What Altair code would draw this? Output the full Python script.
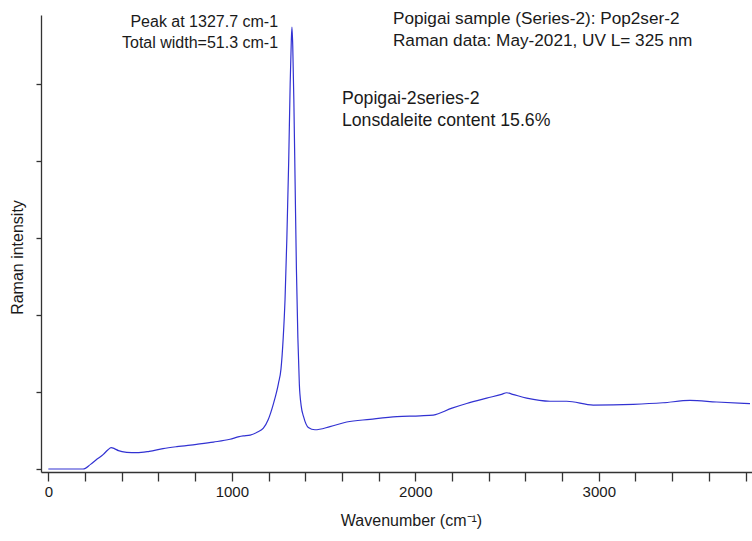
import altair as alt
import pandas as pd

# Raman spectrum (wavenumber in cm-1, intensity in arbitrary units)
wavenumber = [0, 100, 189, 230, 264, 300, 325, 342, 360, 382, 427, 482, 550, 625, 700, 808, 900,
              990, 1040, 1062, 1100, 1140, 1172, 1198, 1227, 1254, 1268, 1280, 1290,
              1300, 1310, 1318, 1324, 1327.7, 1332, 1338, 1345, 1352, 1360, 1368, 1378,
              1391, 1417, 1453, 1535, 1626, 1753, 1900, 2026, 2098, 2200, 2280, 2389,
              2470, 2498, 2530, 2607, 2734, 2825, 2970, 3188, 3350, 3497, 3642, 3824]
intensity = [0.0, 0.0, 0.0, 0.06, 0.126, 0.19, 0.25, 0.277, 0.265, 0.238, 0.217, 0.212, 0.23, 0.264,
             0.29, 0.321, 0.35, 0.386, 0.42, 0.429, 0.44, 0.48, 0.53, 0.64, 0.85, 1.11,
             1.3, 1.7, 2.2, 3.0, 4.0, 5.0, 5.55, 5.74, 5.5, 4.8, 3.7, 2.6, 1.7, 1.1, 0.82,
             0.68, 0.54, 0.51, 0.55, 0.61, 0.645, 0.68, 0.69, 0.70, 0.79, 0.85, 0.92,
             0.97, 0.99, 0.97, 0.92, 0.88, 0.88, 0.83, 0.84, 0.86, 0.89, 0.87, 0.85]

# Annotations (anchored in data coordinates)
peak_text = ["Peak at 1327.7 cm-1", "Total width=51.3 cm-1"]
peak_x = [1252, 1252]
peak_y = [5.81, 5.53]

info_text = ["Popigai sample (Series-2): Pop2ser-2", "Raman data: May-2021, UV L= 325 nm"]
info_x = [1878, 1878]
info_y = [5.85, 5.56]

sample_text = ["Popigai-2series-2", "Lonsdaleite content 15.6%"]
sample_x = [1600, 1600]
sample_y = [4.81, 4.52]

x_ticks = list(range(0, 3801, 200))
y_ticks = [0, 1, 2, 3, 4, 5]

FONT = "Liberation Sans"

spec = pd.DataFrame({"w": wavenumber, "i": intensity})

xscale = alt.Scale(domain=[-40, 3835], nice=False, zero=False)
yscale = alt.Scale(domain=[-0.039, 5.896], nice=False, zero=False)

xaxis = alt.Axis(values=x_ticks, tickCount=100, format="d", labelOverlap=False,
                 labelExpr="datum.value % 1000 === 0 ? datum.label : ''",
                 title="Wavenumber (cm⁻¹)", tickSize=9, titlePadding=13,
                 labelPadding=3, titleX=370)
yaxis = alt.Axis(values=y_ticks, tickCount=100, labels=False, tickSize=5,
                 title="Raman intensity", titlePadding=10, titleY=242)

line = alt.Chart(spec).mark_line(color="#3232d2", strokeWidth=1.2, clip=True,
                                 interpolate="monotone").encode(
    x=alt.X("w:Q", scale=xscale, axis=xaxis),
    y=alt.Y("i:Q", scale=yscale, axis=yaxis),
)


def text_layer(texts, xs, ys, align, size):
    df = pd.DataFrame({"t": texts, "x": xs, "y": ys})
    return alt.Chart(df).mark_text(align=align, baseline="middle", font=FONT,
                                   fontSize=size, color="#1a1a1a").encode(
        x=alt.X("x:Q", scale=xscale, axis=xaxis),
        y=alt.Y("y:Q", scale=yscale, axis=yaxis),
        text="t:N",
    )


chart = alt.layer(
    line,
    text_layer(peak_text, peak_x, peak_y, "right", 16),
    text_layer(info_text, info_x, info_y, "left", 17.2),
    text_layer(sample_text, sample_x, sample_y, "left", 17.7),
).properties(
    width=711, height=457,
    padding={"left": 41, "top": 15, "right": 0, "bottom": 69},
    autosize=alt.AutoSizeParams(type="none"),
    background="white",
).configure_view(stroke=None).configure_axis(
    grid=False, labelOverlap=False,
    domainColor="#333333", tickColor="#333333", domainWidth=1.3, tickWidth=1.3,
    labelFont=FONT, labelFontSize=15, labelColor="#1a1a1a",
    titleFont=FONT, titleFontSize=16, titleFontWeight="normal", titleColor="#1a1a1a",
)

chart.save("out.html", embed_options={"renderer": "svg", "actions": False})
